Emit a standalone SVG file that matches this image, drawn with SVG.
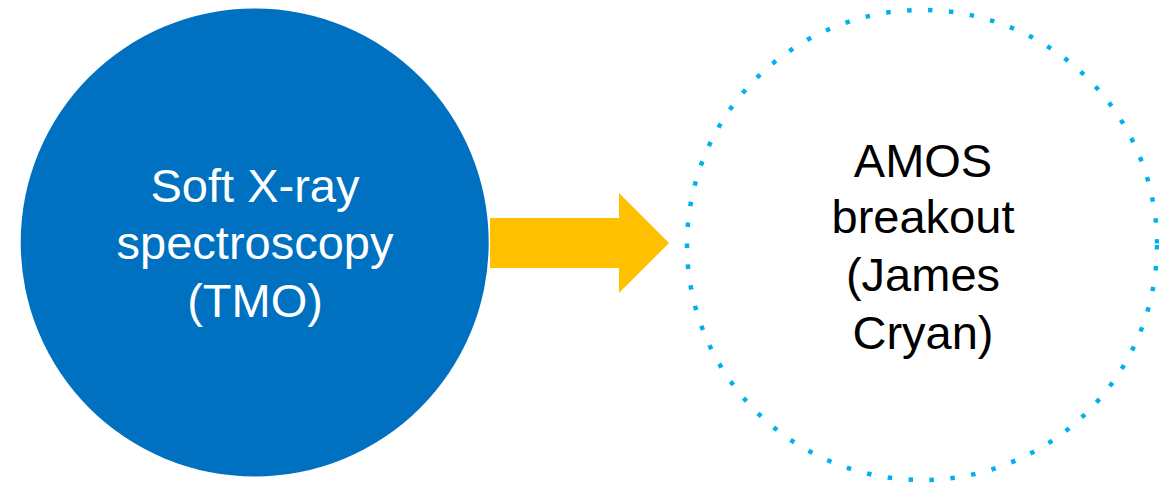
<svg xmlns="http://www.w3.org/2000/svg" width="1159" height="488" viewBox="0 0 1159 488">
<style>
  .lbl { font-family: "Liberation Sans", Arial, sans-serif; font-size: 47px; text-anchor: middle; }
</style>
<rect width="1159" height="488" fill="#FFFFFF"/>
<g id="connectors">
  <path d="M490,218 L619,218 L619,193 L669,243 L619,293 L619,268 L490,268 Z" fill="#FFC000"/>
</g>
<g id="node-tmo">
  <circle cx="254.7" cy="242.5" r="234" fill="#0070C0"/>
  <text class="lbl" fill="#FFFFFF"><tspan x="255" y="202">Soft X-ray</tspan><tspan x="255" y="259">spectroscopy</tspan><tspan x="255" y="317">(TMO)</tspan></text>
</g>
<g id="node-amos">
  <circle cx="922" cy="245" r="235" fill="none" stroke="#00B0F0" stroke-width="4.5" stroke-dasharray="4.5 16.5"/>
  <text class="lbl" fill="#000000"><tspan x="923" y="177">AMOS</tspan><tspan x="923" y="233">breakout</tspan><tspan x="923" y="291">(James</tspan><tspan x="923" y="349">Cryan)</tspan></text>
</g>
</svg>
